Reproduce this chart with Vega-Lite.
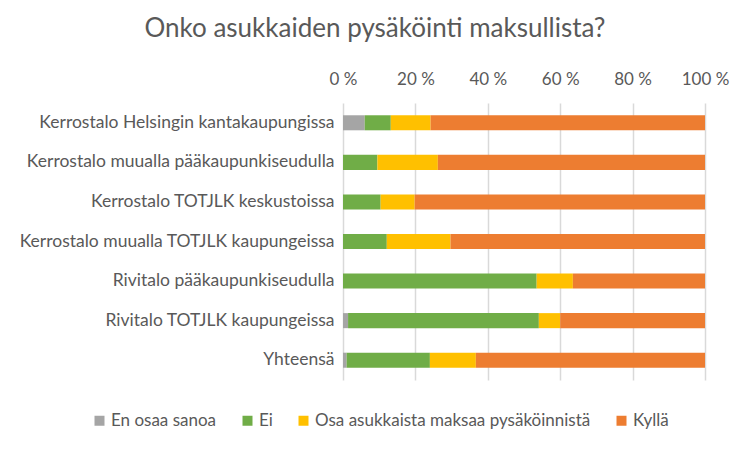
{
  "$schema": "https://vega.github.io/schema/vega-lite/v6.json",
  "width": 362,
  "height": 277,
  "autosize": {"type": "none"},
  "padding": {"left": 343, "top": 103, "right": 47, "bottom": 72},
  "background": "white",
  "title": {
    "text": "Onko asukkaiden pysäköinti maksullista?",
    "anchor": "middle",
    "dx": -149,
    "offset": 28,
    "font": "Lato",
    "fontSize": 26,
    "fontWeight": "normal",
    "color": "#595959"
  },
  "data": {
    "values": [
      {"cat": "Kerrostalo Helsingin kantakaupungissa", "vastaus": "En osaa sanoa", "ord": 1, "pct": 6},
      {"cat": "Kerrostalo Helsingin kantakaupungissa", "vastaus": "Ei", "ord": 2, "pct": 7.2},
      {"cat": "Kerrostalo Helsingin kantakaupungissa", "vastaus": "Osa asukkaista maksaa pysäköinnistä", "ord": 3, "pct": 11},
      {"cat": "Kerrostalo Helsingin kantakaupungissa", "vastaus": "Kyllä", "ord": 4, "pct": 75.8},
      {"cat": "Kerrostalo muualla pääkaupunkiseudulla", "vastaus": "Ei", "ord": 2, "pct": 9.5},
      {"cat": "Kerrostalo muualla pääkaupunkiseudulla", "vastaus": "Osa asukkaista maksaa pysäköinnistä", "ord": 3, "pct": 16.7},
      {"cat": "Kerrostalo muualla pääkaupunkiseudulla", "vastaus": "Kyllä", "ord": 4, "pct": 73.8},
      {"cat": "Kerrostalo TOTJLK keskustoissa", "vastaus": "Ei", "ord": 2, "pct": 10.4},
      {"cat": "Kerrostalo TOTJLK keskustoissa", "vastaus": "Osa asukkaista maksaa pysäköinnistä", "ord": 3, "pct": 9.4},
      {"cat": "Kerrostalo TOTJLK keskustoissa", "vastaus": "Kyllä", "ord": 4, "pct": 80.2},
      {"cat": "Kerrostalo muualla TOTJLK kaupungeissa", "vastaus": "Ei", "ord": 2, "pct": 12.1},
      {"cat": "Kerrostalo muualla TOTJLK kaupungeissa", "vastaus": "Osa asukkaista maksaa pysäköinnistä", "ord": 3, "pct": 17.6},
      {"cat": "Kerrostalo muualla TOTJLK kaupungeissa", "vastaus": "Kyllä", "ord": 4, "pct": 70.3},
      {"cat": "Rivitalo pääkaupunkiseudulla", "vastaus": "Ei", "ord": 2, "pct": 53.5},
      {"cat": "Rivitalo pääkaupunkiseudulla", "vastaus": "Osa asukkaista maksaa pysäköinnistä", "ord": 3, "pct": 10},
      {"cat": "Rivitalo pääkaupunkiseudulla", "vastaus": "Kyllä", "ord": 4, "pct": 36.5},
      {"cat": "Rivitalo TOTJLK kaupungeissa", "vastaus": "En osaa sanoa", "ord": 1, "pct": 1.4},
      {"cat": "Rivitalo TOTJLK kaupungeissa", "vastaus": "Ei", "ord": 2, "pct": 52.7},
      {"cat": "Rivitalo TOTJLK kaupungeissa", "vastaus": "Osa asukkaista maksaa pysäköinnistä", "ord": 3, "pct": 5.9},
      {"cat": "Rivitalo TOTJLK kaupungeissa", "vastaus": "Kyllä", "ord": 4, "pct": 40},
      {"cat": "Yhteensä", "vastaus": "En osaa sanoa", "ord": 1, "pct": 1},
      {"cat": "Yhteensä", "vastaus": "Ei", "ord": 2, "pct": 23},
      {"cat": "Yhteensä", "vastaus": "Osa asukkaista maksaa pysäköinnistä", "ord": 3, "pct": 12.7},
      {"cat": "Yhteensä", "vastaus": "Kyllä", "ord": 4, "pct": 63.3}
    ]
  },
  "mark": {"type": "bar"},
  "encoding": {
    "y": {
      "field": "cat",
      "type": "nominal",
      "sort": null,
      "title": null,
      "scale": {"paddingInner": 0.62, "paddingOuter": 0.31},
      "axis": {
        "domain": false,
        "ticks": false,
        "labelPadding": 9,
        "labelFont": "Lato",
        "labelFontSize": 17.5,
        "labelColor": "#595959",
        "labelLimit": 400
      }
    },
    "x": {
      "field": "pct",
      "type": "quantitative",
      "stack": "zero",
      "title": null,
      "scale": {"domain": [0, 100], "nice": false},
      "axis": {
        "orient": "top",
        "values": [0, 20, 40, 60, 80, 100],
        "labelExpr": "datum.value + ' %'",
        "labelFlush": false,
        "labelOverlap": false,
        "domain": false,
        "ticks": false,
        "labelPadding": 15,
        "labelFont": "Lato",
        "labelFontSize": 17,
        "labelColor": "#595959",
        "grid": true,
        "gridColor": "#d9d9d9",
        "gridWidth": 1.5
      }
    },
    "color": {
      "field": "vastaus",
      "type": "nominal",
      "scale": {
        "domain": ["En osaa sanoa", "Ei", "Osa asukkaista maksaa pysäköinnistä", "Kyllä"],
        "range": ["#a5a5a5", "#70ad47", "#ffc000", "#ed7d31"]
      },
      "legend": {
        "title": null,
        "orient": "none",
        "direction": "horizontal",
        "legendX": -252,
        "legendY": 309,
        "symbolType": "square",
        "symbolSize": 100,
        "symbolStrokeWidth": 0,
        "labelFont": "Lato",
        "labelFontSize": 17,
        "labelColor": "#595959",
        "labelLimit": 0,
        "columnPadding": 22,
        "labelOffset": 3
      }
    },
    "order": {"field": "ord", "type": "quantitative"}
  },
  "config": {
    "view": {"stroke": null}
  }
}
